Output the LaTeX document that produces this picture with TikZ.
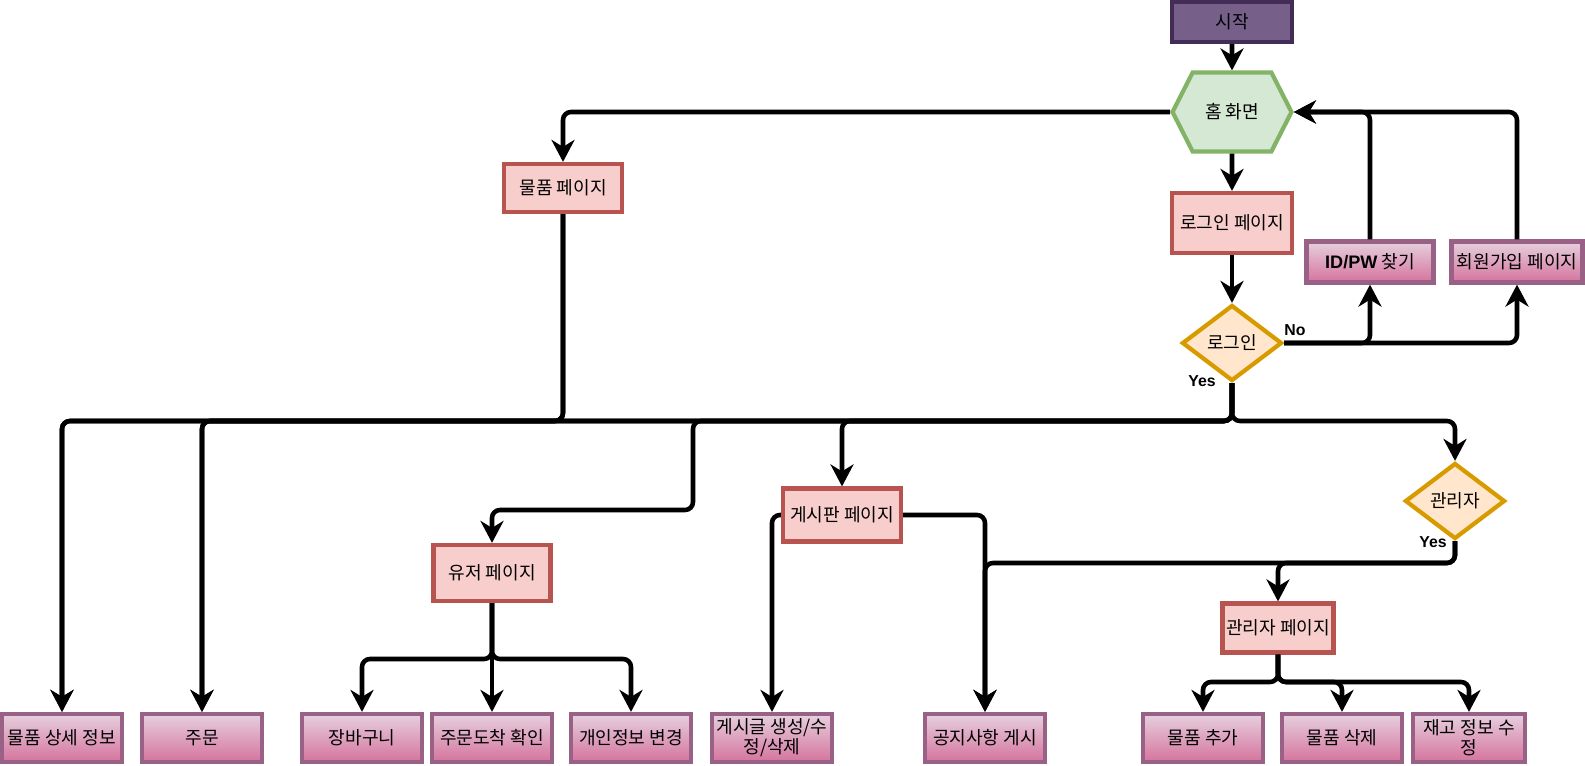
\documentclass[tikz,border=0pt]{standalone}
\usepackage{fontspec}
\setmainfont{Noto Sans CJK KR}
\newfontfamily\latinfont{Liberation Sans}
\usepackage{tikz}
\usetikzlibrary{arrows.meta,positioning,shapes.geometric,shapes.symbols}
\definecolor{StartPurple}{HTML}{76608A}
\definecolor{StartLine}{HTML}{432D57}
\definecolor{HomeGreen}{HTML}{D5E8D4}
\definecolor{HomeLine}{HTML}{82B366}
\definecolor{PageRed}{HTML}{F8CECC}
\definecolor{PageLine}{HTML}{B85450}
\definecolor{ChoiceOrange}{HTML}{FFE6CC}
\definecolor{ChoiceLine}{HTML}{D79B00}
\definecolor{ItemTop}{HTML}{E6D0DE}
\definecolor{ItemBottom}{HTML}{D5739D}
\definecolor{ItemLine}{HTML}{996185}

\begin{document}
\begin{tikzpicture}[x=0.02cm, y=-0.02cm, >={Stealth[length=0.44cm,width=0.46cm,inset=0.14cm]},
    every node/.style={font=\fontsize{10.3}{11.5}\selectfont, align=center, inner sep=1pt},
    startbox/.style={draw=StartLine, fill=StartPurple, line width=2.4pt, minimum width=2.4cm, minimum height=0.8cm},
    homebox/.style={signal, signal to=west and east, signal pointer angle=126, draw=HomeLine, fill=HomeGreen,
      line width=2.4pt, minimum width=2.38cm, minimum height=1.58cm},
    pagebox/.style={draw=PageLine, fill=PageRed, line width=2.4pt},
    choice/.style={diamond, draw=ChoiceLine, fill=ChoiceOrange, line width=2.4pt, minimum width=2cm,
      minimum height=1.52cm, inner sep=0pt},
    itembox/.style={draw=ItemLine, top color=ItemTop, bottom color=ItemBottom, line width=2.4pt,
      minimum width=2.4cm, minimum height=0.96cm},
    flow/.style={->, line width=2.6pt, rounded corners=0.16cm},
    lbl/.style={font=\latinfont\fontsize{9}{10}\selectfont\bfseries}]
    \useasboundingbox (0,0) rectangle (1585,765);

    \node[startbox] (start) at (1232,22) {시작};
    \node[homebox] (home) at (1232,112) {홈 화면};
    \node[pagebox, minimum width=2.4cm, minimum height=1.2cm] (loginpage) at (1232,223) {로그인 페이지};
    \node[itembox, minimum width=2.54cm, minimum height=0.82cm] (findid) at (1370,262) {{\latinfont\bfseries ID/PW} 찾기};
    \node[itembox, minimum width=2.62cm, minimum height=0.82cm] (signup) at (1517,262) {회원가입 페이지};
    \node[choice] (login) at (1232,343) {로그인};
    \node[pagebox, minimum width=2.36cm, minimum height=0.96cm] (goods) at (563,188) {물품 페이지};
    \node[pagebox, minimum width=2.34cm, minimum height=1.12cm] (user) at (492,573) {유저 페이지};
    \node[pagebox, minimum width=2.36cm, minimum height=1.06cm] (board) at (842,515) {게시판 페이지};
    \node[choice] (admin) at (1455,501) {관리자};
    \node[pagebox, minimum width=2.22cm, minimum height=0.98cm] (adminpage) at (1278,628) {관리자 페이지};

    \node[itembox] (detail) at (62,738) {물품 상세 정보};
    \node[itembox] (order) at (202,738) {주문};
    \node[itembox] (cart) at (362,738) {장바구니};
    \node[itembox] (arrival) at (492,738) {주문도착 확인};
    \node[itembox] (info) at (631,738) {개인정보 변경};
    \node[itembox] (post) at (772,738) {게시글 생성/수\\정/삭제};
    \node[itembox] (notice) at (985,738) {공지사항 게시};
    \node[itembox] (additem) at (1203,738) {물품 추가};
    \node[itembox] (delitem) at (1342,738) {물품 삭제};
    \node[itembox, minimum width=2.24cm] (stock) at (1469,738) {재고 정보 수\\정};

    \node[lbl] (nolbl) at (1295,330) {No};
    \node[lbl] (yeslogin) at (1202,381) {Yes};
    \node[lbl] (yesadmin) at (1433,542) {Yes};

    \coordinate (loginbus) at (0,421);
    \coordinate (userturn) at (693,510);
    \coordinate (userbus) at (0,659);
    \coordinate (adminbus) at (0,563);
    \coordinate (itembus) at (0,682);

    \draw[flow] (start) -- (home);
    \draw[flow] (home) -- (loginpage);
    \draw[flow] (loginpage) -- (login);
    \draw[flow] (login.east) -| (findid.south);
    \draw[flow] (login.east) -| (signup.south);
    \draw[flow] (findid.north) |- (home.east);
    \draw[flow] (signup.north) |- (home.east);
    \draw[flow] (home.west) -| (goods.north);
    \draw[flow] (goods.south) -- (goods.south |- loginbus) -| (detail.north);
    \draw[flow] (goods.south) -- (goods.south |- loginbus) -| (order.north);
    \draw[flow] (login.south) -- (login.south |- loginbus) -| (detail.north);
    \draw[flow] (login.south) -- (login.south |- loginbus) -| (order.north);
    \draw[flow] (login.south) -- (login.south |- loginbus) -| (userturn) -| (user.north);
    \draw[flow] (login.south) -- (login.south |- loginbus) -| (board.north);
    \draw[flow] (login.south) -- (login.south |- loginbus) -| (admin.north);
    \draw[flow] (user.south) -- (user.south |- userbus) -| (cart.north);
    \draw[flow] (user.south) -- (arrival.north);
    \draw[flow] (user.south) -- (user.south |- userbus) -| (info.north);
    \draw[flow] (board.west) -| (post.north);
    \draw[flow] (board.east) -| (notice.north);
    \draw[flow] (admin.south) -- (admin.south |- adminbus) -| (notice.north);
    \draw[flow] (admin.south) -- (admin.south |- adminbus) -| (adminpage.north);
    \draw[flow] (adminpage.south) -- (adminpage.south |- itembus) -| (additem.north);
    \draw[flow] (adminpage.south) -- (adminpage.south |- itembus) -| (delitem.north);
    \draw[flow] (adminpage.south) -- (adminpage.south |- itembus) -| (stock.north);
  \end{tikzpicture}
\end{document}
